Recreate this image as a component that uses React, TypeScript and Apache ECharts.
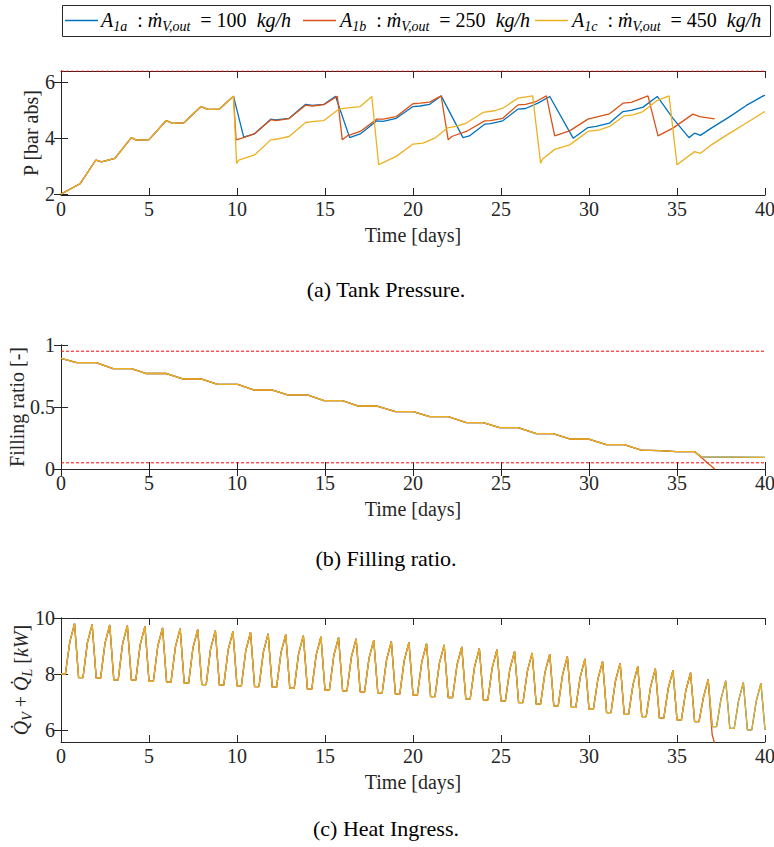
import React, { useEffect, useRef } from "react";
import * as echarts from "echarts";

const BLUE = "#0072BD";
const RED = "#D95319";
const YELLOW = "#EDB120";
const LIMIT = "#FF0000";
const AXIS = "#262626";
const FONT = "Liberation Serif";

// ---------- (a) Tank pressure [bar abs] ----------
const pCommonT = [0, 1.08, 1.98, 2.3, 3.06, 4.0, 4.28, 5.0, 5.98, 6.36, 6.98, 7.96, 8.34, 9.0, 9.8];
const pCommonV = [2.0, 2.37, 3.22, 3.15, 3.28, 4.02, 3.93, 3.95, 4.63, 4.53, 4.55, 5.13, 5.03, 5.04, 5.5];

const pBlueT = [10.38, 10.98, 11.92, 12.2, 12.96, 13.9, 14.28, 14.94, 15.6, 16.4, 17.0, 17.95, 18.3, 19.05, 20.0, 20.4, 20.95, 21.6, 22.84, 23.2, 24.07, 24.4, 25.1, 25.97, 26.4, 27.1, 27.77, 29.1, 29.94, 30.4, 31.17, 31.93, 32.4, 33.07, 33.88, 34.77, 35.68, 36.0, 36.33, 36.95, 38.0, 38.94, 39.9, 40.0];
const pBlueV = [4.04, 4.15, 4.68, 4.65, 4.71, 5.21, 5.17, 5.21, 5.5, 4.02, 4.15, 4.62, 4.6, 4.71, 5.13, 5.15, 5.21, 5.51, 4.02, 4.08, 4.5, 4.52, 4.62, 5.04, 5.06, 5.25, 5.49, 4.0, 4.38, 4.42, 4.54, 4.95, 4.99, 5.11, 5.49, 4.71, 4.02, 4.18, 4.1, 4.36, 4.77, 5.17, 5.51, 5.53];

const pRedT = [9.95, 10.38, 10.98, 11.92, 12.2, 12.96, 13.9, 14.28, 14.94, 15.7, 15.98, 16.26, 17.0, 17.95, 18.3, 19.05, 20.0, 20.4, 20.95, 21.6, 22.0, 22.2, 23.03, 24.07, 24.4, 25.1, 25.97, 26.4, 27.0, 27.58, 28.05, 28.9, 29.94, 30.4, 31.17, 31.93, 32.4, 33.35, 33.92, 34.77, 35.9, 36.29, 37.14];
const pRedV = [3.94, 4.02, 4.15, 4.66, 4.63, 4.7, 5.18, 5.15, 5.2, 5.5, 3.94, 4.08, 4.24, 4.68, 4.68, 4.77, 5.23, 5.25, 5.29, 5.51, 3.94, 4.06, 4.24, 4.62, 4.63, 4.71, 5.19, 5.21, 5.31, 5.51, 4.08, 4.26, 4.68, 4.75, 4.87, 5.25, 5.28, 5.51, 4.08, 4.36, 4.86, 4.77, 4.69];

const pYellowT = [9.98, 10.1, 11.0, 11.92, 12.4, 12.96, 13.9, 14.38, 14.94, 15.8, 16.17, 17.0, 17.66, 18.05, 18.2, 19.05, 20.0, 20.57, 21.23, 22.0, 22.46, 23.03, 23.98, 24.64, 25.1, 25.97, 26.8, 27.25, 27.35, 28.05, 28.9, 29.94, 30.6, 31.17, 32.0, 32.5, 33.07, 33.83, 34.55, 35.0, 36.0, 36.33, 36.95, 38.0, 38.94, 39.9, 40.0];
const pYellowV = [3.1, 3.22, 3.4, 3.94, 3.98, 4.06, 4.56, 4.6, 4.63, 5.04, 5.07, 5.13, 5.49, 3.05, 3.1, 3.35, 3.79, 3.82, 4.0, 4.38, 4.42, 4.54, 4.92, 4.98, 5.07, 5.43, 5.51, 3.1, 3.25, 3.6, 3.76, 4.24, 4.3, 4.42, 4.8, 4.83, 4.95, 5.33, 5.51, 3.05, 3.52, 3.46, 3.76, 4.18, 4.54, 4.92, 4.95];

const pLimits = [6.4];

// ---------- (b) Filling ratio [-] ----------
const fCommonT = [0, 0.89, 2.0, 2.96, 4.0, 4.85, 6.0, 6.92, 7.96, 8.9, 10.04, 10.98, 12.02, 12.87, 14.0, 14.94, 15.98, 16.9, 17.96, 19.0, 20.0, 20.95, 22.0, 23.03, 23.98, 24.92, 25.97, 27.0, 27.95, 28.9, 29.94, 30.98, 32.0, 32.97, 34.0, 34.96, 36.0];
const fCommonV = [0.892, 0.858, 0.858, 0.81, 0.81, 0.77, 0.77, 0.726, 0.726, 0.683, 0.683, 0.637, 0.637, 0.597, 0.597, 0.551, 0.551, 0.508, 0.508, 0.462, 0.462, 0.422, 0.422, 0.374, 0.374, 0.333, 0.333, 0.285, 0.285, 0.242, 0.242, 0.196, 0.196, 0.153, 0.148, 0.14, 0.14];
const fTailT = [36.4, 40.0];
const fTailV = [0.097, 0.094];
const fRedTailT = [37.14];
const fRedTailV = [0.0];
const fLimits = [0.95, 0.05];

// ---------- (c) Heat ingress [kW] ----------
const qTroughs = [8.0, 7.87, 7.85, 7.79, 7.78, 7.74, 7.71, 7.67, 7.62, 7.6, 7.58, 7.55, 7.53, 7.49, 7.46, 7.42, 7.4, 7.36, 7.33, 7.28, 7.25, 7.19, 7.16, 7.11, 7.07, 7.04, 6.98, 6.92, 6.86, 6.81, 6.74, 6.62, 6.56, 6.48, 6.42, 6.36, 6.3, 6.12, 6.06, 6.0, 6.0];
const qKnees = [9.15, 9.12, 9.1, 9.08, 9.05, 9.0, 8.97, 8.94, 8.9, 8.87, 8.84, 8.79, 8.76, 8.72, 8.68, 8.66, 8.61, 8.56, 8.51, 8.48, 8.43, 8.39, 8.32, 8.26, 8.22, 8.16, 8.1, 8.06, 7.98, 7.89, 7.8, 7.74, 7.62, 7.54, 7.48, 7.4, 7.16, 7.11, 7.05, 7.02];
const qPeaks = [9.8, 9.77, 9.75, 9.73, 9.7, 9.65, 9.62, 9.59, 9.55, 9.52, 9.49, 9.44, 9.41, 9.37, 9.33, 9.31, 9.26, 9.21, 9.16, 9.13, 9.08, 9.04, 8.97, 8.91, 8.87, 8.81, 8.75, 8.71, 8.63, 8.54, 8.45, 8.39, 8.27, 8.19, 8.13, 8.05, 7.81, 7.76, 7.7, 7.67];
const qPhase = [0, 0.25, 0.5, 0.77]; // trough start, trough end, knee, peak (fraction of day)
const qRedEndDay = 36;
const qRedTailT = [36.95, 37.0, 37.2];
const qRedTailV = [6.2, 5.82, 5.4];

function pairs(t: number[], v: number[]) {
  return t.map((x, i) => [x, v[i]]);
}

function heatCycles(lastDay: number, includeEnd: boolean) {
  const out: number[][] = [];
  for (let n = 0; n <= lastDay; n++) {
    out.push([n + qPhase[0], qTroughs[n]]);
    out.push([n + qPhase[1], qTroughs[n]]);
    out.push([n + qPhase[2], qKnees[n]]);
    out.push([n + qPhase[3], qPeaks[n]]);
  }
  if (includeEnd) out.push([lastDay + 1, qTroughs[lastDay + 1]]);
  return out;
}

const labelStyle = { color: AXIS, fontFamily: FONT, fontSize: 20 };

function makeAxes(gi: number, yMin: number, yMax: number, yTicks: number[], yName: string, nameGap: number, rich?: any) {
  const xBase = {
    gridIndex: gi,
    type: "value" as const,
    min: 0,
    max: 40,
    interval: 5,
    splitLine: { show: false },
    axisLine: { show: true, lineStyle: { color: AXIS, width: 1 } },
    axisTick: { show: true, inside: true, length: 7, lineStyle: { color: AXIS, width: 1 } },
  };
  const xs = [
    {
      ...xBase,
      position: "bottom",
      axisLabel: { ...labelStyle, margin: 4 },
      name: "Time [days]",
      nameLocation: "middle",
      nameGap: 30,
      nameMoveOverlap: false,
      nameTextStyle: { ...labelStyle },
    },
    { ...xBase, position: "top", axisLabel: { show: false } },
  ];
  const yBase = {
    gridIndex: gi,
    type: "value" as const,
    min: yMin,
    max: yMax,
    splitLine: { show: false },
    axisLine: { show: true, lineStyle: { color: AXIS, width: 1 } },
    axisTick: { show: true, inside: true, length: 7, customValues: yTicks, lineStyle: { color: AXIS, width: 1 } },
  };
  const ys = [
    {
      ...yBase,
      position: "left",
      axisLabel: { ...labelStyle, margin: 6, customValues: yTicks, showMinLabel: true, showMaxLabel: true },
      name: yName,
      nameLocation: "middle",
      nameGap,
      nameRotate: 90,
      nameMoveOverlap: false,
      nameTextStyle: { ...labelStyle, ...(rich ? { rich } : {}) },
    },
    { ...yBase, position: "right", axisLabel: { show: false } },
  ];
  return { xs, ys };
}

function lineSeries(name: string, color: string, data: number[][], gi: number, extra: any = {}) {
  return {
    name,
    type: "line",
    xAxisIndex: gi * 2,
    yAxisIndex: gi * 2,
    data,
    showSymbol: false,
    symbol: "none",
    clip: true,
    silent: true,
    lineStyle: { color, width: 1.3 },
    itemStyle: { color },
    ...extra,
  };
}

function limitSeries(v: number, gi: number) {
  return lineSeries("limit", LIMIT, [[0, v], [40, v]], gi, {
    lineStyle: { color: LIMIT, width: 1, type: [3, 2] },
  });
}

const subRich = {
  n: { fontFamily: FONT, fontSize: 20, lineHeight: 26, color: "#000" },
  i: { fontFamily: FONT, fontSize: 20, fontStyle: "italic", lineHeight: 26, color: "#000" },
  s: { fontFamily: FONT, fontSize: 14, fontStyle: "italic", lineHeight: 15, verticalAlign: "bottom", color: "#000" },
};

export default function App() {
  const ref = useRef<HTMLDivElement>(null);
  useEffect(() => {
    if (!ref.current) return;
    const chart = echarts.init(ref.current, undefined, { renderer: "svg" });

    const a = makeAxes(0, 1.97, 6.4, [2, 4, 6], "P [bar abs]", 20);
    const b = makeAxes(1, 0, 1, [0, 0.5, 1], "Filling ratio [-]", 34);
    const qRich = {
      n: { fontFamily: FONT, fontSize: 20, lineHeight: 26, color: AXIS },
      i: { fontFamily: FONT, fontSize: 20, fontStyle: "italic", lineHeight: 26, color: AXIS },
      s: { fontFamily: FONT, fontSize: 14, fontStyle: "italic", lineHeight: 15, verticalAlign: "bottom", color: AXIS },
    };
    const c = makeAxes(2, 5.57, 10, [6, 8, 10], "{i|Q\u0307}{s|V}{n| + }{i|Q\u0307}{s|L}{n| [}{i|kW}{n|]}", 27, qRich);

    const pBlue = [...pairs(pCommonT, pCommonV), ...pairs(pBlueT, pBlueV)];
    const pRed = [...pairs(pCommonT, pCommonV), ...pairs(pRedT, pRedV)];
    const pYellow = [...pairs(pCommonT, pCommonV), ...pairs(pYellowT, pYellowV)];

    const fBY = [...pairs(fCommonT, fCommonV), ...pairs(fTailT, fTailV)];
    const fRed = [...pairs(fCommonT, fCommonV), ...pairs(fRedTailT, fRedTailV)];

    const qBY = heatCycles(39, true);
    const qRed = [...heatCycles(qRedEndDay, false), ...pairs(qRedTailT, qRedTailV)];

    const legendItems = [
      { color: BLUE, x: 65, tx: 101, sub: "1a", val: "100" },
      { color: RED, x: 303, tx: 340, sub: "1b", val: "250" },
      { color: YELLOW, x: 535, tx: 572, sub: "1c", val: "450" },
    ];

    const graphics: any[] = [
      {
        type: "rect",
        shape: { x: 62.5, y: 5.5, width: 708, height: 31 },
        style: { fill: "#fff", stroke: AXIS, lineWidth: 1 },
        z: 10,
      },
    ];
    legendItems.forEach((it) => {
      graphics.push({
        type: "line",
        shape: { x1: it.x, y1: 20.5, x2: it.x + 33, y2: 20.5 },
        style: { stroke: it.color, lineWidth: 1.3 },
        z: 11,
      });
      graphics.push({
        type: "text",
        x: it.tx,
        y: 20,
        z: 11,
        style: {
          text: `{i|A}{s|${it.sub}}{n|  : }{i|\u1E41}{s|V,out}{n|  = ${it.val}  }{i|kg/h}`,
          rich: subRich,
          verticalAlign: "middle",
          align: "left",
          fill: "#000",
        },
      });
    });
    const captions = [
      { y: 289, text: "(a) Tank Pressure." },
      { y: 558, text: "(b) Filling ratio." },
      { y: 828, text: "(c) Heat Ingress." },
    ];
    captions.forEach((cp) => {
      graphics.push({
        type: "text",
        x: 386,
        y: cp.y,
        style: { text: cp.text, fontFamily: FONT, fontSize: 22, fill: "#000", align: "center", verticalAlign: "middle" },
      });
    });

    chart.setOption({
      animation: false,
      backgroundColor: "#fff",
      grid: [
        { left: 61, top: 71, width: 704, height: 124, outerBoundsMode: "none", containLabel: false },
        { left: 61, top: 345, width: 704, height: 124, outerBoundsMode: "none", containLabel: false },
        { left: 61, top: 618, width: 704, height: 124, outerBoundsMode: "none", containLabel: false },
      ],
      xAxis: [...a.xs, ...b.xs, ...c.xs],
      yAxis: [...a.ys, ...b.ys, ...c.ys],
      series: [
        ...pLimits.map((v) => limitSeries(v, 0)),
        lineSeries("A1a", BLUE, pBlue, 0),
        lineSeries("A1b", RED, pRed, 0),
        lineSeries("A1c", YELLOW, pYellow, 0),
        ...fLimits.map((v) => limitSeries(v, 1)),
        lineSeries("A1a", BLUE, fBY, 1),
        lineSeries("A1b", RED, fRed, 1),
        lineSeries("A1c", YELLOW, fBY, 1),
        lineSeries("A1a", BLUE, qBY, 2),
        lineSeries("A1b", RED, qRed, 2),
        lineSeries("A1c", YELLOW, qBY, 2),
      ],
      graphic: graphics,
    });
    return () => chart.dispose();
  }, []);
  return (
    <div
      ref={ref}
      style={{ position: "fixed", left: 0, top: 0, width: 774, height: 847, background: "#fff" }}
    />
  );
}
